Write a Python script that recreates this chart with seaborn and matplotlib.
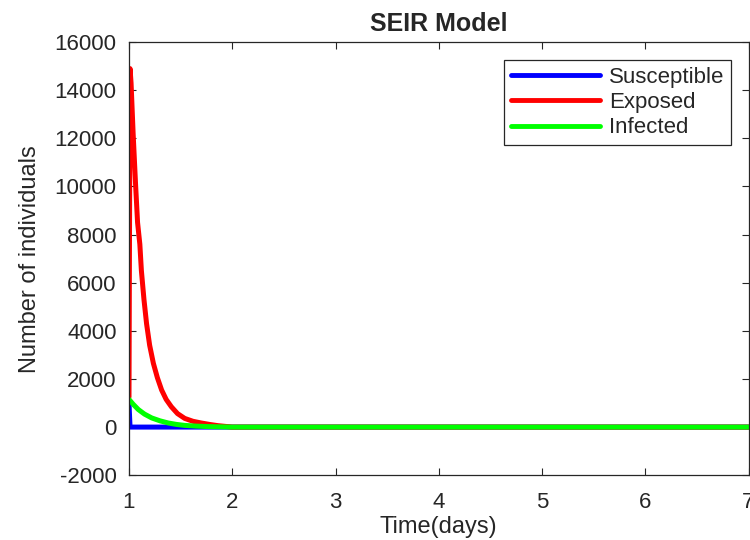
import pandas as pd
import seaborn as sns
import matplotlib.pyplot as plt

# values
s_time = [1.0, 1.01, 1.5, 7.0]
s_vals = [1000, 0, 0, 0]

e_time = [1.0, 1.01, 1.02, 1.04, 1.063, 1.083, 1.105, 1.12, 1.145, 1.17,
          1.2, 1.236, 1.275, 1.316, 1.36, 1.41, 1.47, 1.54, 1.62, 1.70,
          1.78, 1.86, 2.0, 7.0]
e_vals = [1250, 14900, 14300, 12200, 10140, 8500, 7600, 6500, 5300, 4300,
          3400, 2650, 2050, 1540, 1150, 845, 560, 360, 240, 170,
          110, 60, 0, 0]

i_time = [1.0, 1.04, 1.09, 1.15, 1.22, 1.30, 1.38, 1.46, 1.54, 1.65,
          1.77, 2.0, 7.0]
i_vals = [1150, 950, 730, 540, 380, 260, 170, 110, 70, 40,
          20, 0, 0]

x_ticks = [1, 2, 3, 4, 5, 6, 7]
y_ticks = [-2000, 0, 2000, 4000, 6000, 8000, 10000, 12000, 14000, 16000]

df = pd.concat([
    pd.DataFrame({"t": s_time, "n": s_vals, "group": "Susceptible"}),
    pd.DataFrame({"t": e_time, "n": e_vals, "group": "Exposed"}),
    pd.DataFrame({"t": i_time, "n": i_vals, "group": "Infected"}),
])

sns.set_style("ticks")
plt.rcParams['font.family'] = ['Liberation Sans', 'DejaVu Sans']
plt.rcParams['axes.unicode_minus'] = False

fig = plt.figure(figsize=(7.5, 5.4), dpi=100)
ax = fig.add_axes([0.172, 0.12, 0.826, 0.802])

palette = {"Susceptible": "#0000ff", "Exposed": "#ff0000", "Infected": "#00ff00"}
sns.lineplot(data=df, x="t", y="n", hue="group", palette=palette,
             estimator=None, sort=False, linewidth=3.6, ax=ax)

ax.set_xlim(1, 7)
ax.set_ylim(-2000, 16000)
ax.set_xticks(x_ticks)
ax.set_yticks(y_ticks)
ax.tick_params(direction="in", top=True, right=True, labelsize=16,
               colors="#262626", length=5, width=0.8)
ax.tick_params(axis="x", pad=12)
ax.tick_params(axis="y", pad=9)
for sp in ax.spines.values():
    sp.set_visible(True)
    sp.set_color("#262626")
    sp.set_linewidth(0.9)

ax.set_title("SEIR Model", fontsize=18, fontweight="bold", pad=8)
ax.set_xlabel("Time(days)", fontsize=17, color="#262626", labelpad=2)
ax.set_ylabel("Number of individuals", fontsize=17, color="#262626", labelpad=10)

leg = ax.legend(loc="upper right", fontsize=16, frameon=True, fancybox=False,
                edgecolor="#262626", framealpha=1, handlelength=4.0,
                borderaxespad=0.8, labelspacing=0.2, handletextpad=0.4,
                borderpad=0.3)
for line in leg.get_lines():
    line.set_linewidth(3.5)
leg.get_frame().set_linewidth(0.9)

fig.savefig("out.png", dpi=100)
